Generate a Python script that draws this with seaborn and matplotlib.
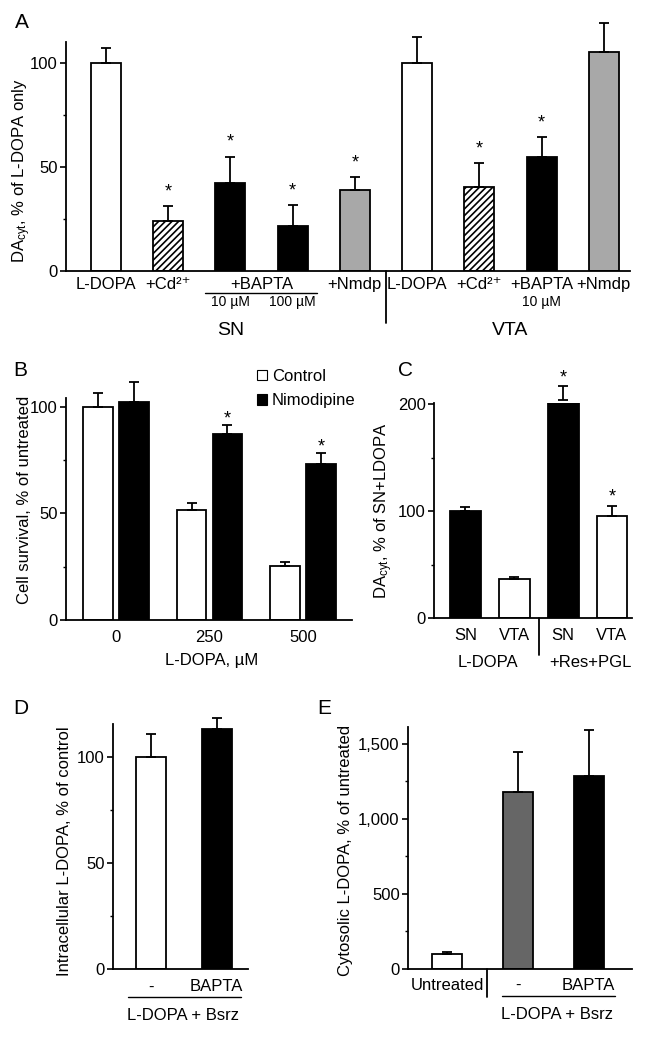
import matplotlib
matplotlib.use("Agg")
import matplotlib.pyplot as plt
import matplotlib.patches as mpatches
from matplotlib.ticker import MultipleLocator, StrMethodFormatter
import seaborn as sns
import numpy as np
import pandas as pd

# ---- values ----
# A: DAcyt, % of L-DOPA only
a_keys = ["SN_LDOPA", "SN_Cd", "SN_BAPTA10", "SN_BAPTA100", "SN_Nmdp",
          "VTA_LDOPA", "VTA_Cd", "VTA_BAPTA10", "VTA_Nmdp"]
a_treat = ["L-DOPA", "Cd", "BAPTA", "BAPTA", "Nmdp", "L-DOPA", "Cd", "BAPTA", "Nmdp"]
a_mean = [100, 24, 42.5, 21.7, 39, 100, 40.5, 55, 105]
a_err = [7, 7, 12.5, 10, 6, 12.5, 11.5, 9.5, 14]
a_sig = [0, 1, 1, 1, 1, 0, 1, 1, 0]
a_ticklabels = ["L-DOPA", "+Cd²⁺", "+BAPTA", "+Nmdp", "L-DOPA", "+Cd²⁺", "+BAPTA", "+Nmdp"]

# B: cell survival
b_dose = ["0", "250", "500"]
b_control = [100, 51.3, 25.4]
b_control_err = [6.2, 3.6, 2.0]
b_nimo = [102.3, 87.3, 73.2]
b_nimo_err = [9.4, 4.2, 5.2]
b_nimo_sig = [0, 1, 1]

# C: DAcyt, % of SN+LDOPA
c_keys = ["SN_LDOPA", "VTA_LDOPA", "SN_ResPGL", "VTA_ResPGL"]
c_region = ["SN", "VTA", "SN", "VTA"]
c_mean = [100, 36.4, 203.7, 95.3]
c_err = [3.7, 1.9, 13, 9.4]
c_sig = [0, 0, 1, 1]

# D: intracellular L-DOPA
d_keys = ["-", "BAPTA"]
d_mean = [100, 113.2]
d_err = [10.8, 5.2]

# E: cytosolic L-DOPA
e_keys = ["Untreated", "-", "BAPTA"]
e_mean = [100, 1180, 1287]
e_err = [12, 267, 306]

# ---- style ----
sns.set_style("ticks")
plt.rcParams["font.family"] = ["Liberation Sans", "DejaVu Sans"]
plt.rcParams["mathtext.fontset"] = "custom"
plt.rcParams["mathtext.rm"] = "Liberation Sans"
plt.rcParams["mathtext.default"] = "regular"
plt.rcParams["hatch.linewidth"] = 1.2
plt.rcParams["axes.linewidth"] = 1.3
for k in ["text.color", "axes.labelcolor", "xtick.color", "ytick.color", "axes.edgecolor"]:
    plt.rcParams[k] = "black"

W, H = 645, 1039
fig = plt.figure(figsize=(W / 100, H / 100), dpi=100)


def px_axes(l, t, r, b):
    return fig.add_axes([l / W, 1 - b / H, (r - l) / W, (b - t) / H])


def style_axis(ax, ylim, major, minor, xpad):
    sns.despine(ax=ax)
    ax.set_ylim(*ylim)
    ax.yaxis.set_major_locator(MultipleLocator(major))
    ax.yaxis.set_minor_locator(MultipleLocator(minor))
    ax.tick_params(axis="y", which="major", direction="out", length=4, width=1.2, labelsize=12, pad=2)
    ax.tick_params(axis="y", which="minor", direction="out", length=2.5, width=1.0)
    ax.tick_params(axis="x", length=0, labelsize=12, pad=xpad)
    ax.set_xlabel("")


def simple_bars(ax, keys, means, groups, palette, width):
    df = pd.DataFrame({"key": keys, "mean": means, "group": groups})
    sns.barplot(data=df, x="key", y="mean", hue="group", palette=palette, order=keys,
                dodge=False, width=width, edgecolor="black", linewidth=1.3,
                errorbar=None, legend=False, ax=ax)


def bars_in_order(ax):
    return sorted([p for p in ax.patches if p.get_width() > 0], key=lambda p: p.get_x())


def add_errors(ax, bars, errs, sig=None, pad=5):
    xs = [p.get_x() + p.get_width() / 2 for p in bars]
    ys = [p.get_height() for p in bars]
    ax.errorbar(xs, ys, yerr=[np.zeros(len(errs)), errs], fmt="none", ecolor="black",
                elinewidth=1.3, capsize=3.5, capthick=1.3, zorder=3, clip_on=False)
    if sig is None:
        return
    for x, y, e, s in zip(xs, ys, errs, sig):
        if s:
            ax.annotate("*", (x, y + e), xytext=(0, pad), textcoords="offset points",
                        ha="center", va="baseline", fontsize=13, annotation_clip=False)


def line(ax, xs, ys, lw=1.0):
    ax.plot(xs, ys, transform=ax.get_xaxis_transform(), color="black", lw=lw, clip_on=False)


def label(ax, x, y, s, size=12):
    ax.text(x, y, s, transform=ax.get_xaxis_transform(), ha="center", va="center", fontsize=size)


# ---- A ----
axA = px_axes(66, 42, 630, 271)
simple_bars(axA, a_keys, a_mean, a_treat,
            {"L-DOPA": "white", "Cd": "white", "BAPTA": "black", "Nmdp": "#a8a8a8"}, 0.48)
barsA = bars_in_order(axA)
for p, t in zip(barsA, a_treat):
    if t == "Cd":
        p.set_hatch("/////")
add_errors(axA, barsA, a_err, a_sig, pad=7)
style_axis(axA, (0, 110), 50, 25, 4)
axA.set_xlim(-0.64, 8.42)
axA.set_xticks([0, 1, 2.5, 4, 5, 6, 7, 8], a_ticklabels)
axA.set_ylabel("DA$_{cyt}$, % of L-DOPA only", fontsize=12)
axA.yaxis.set_label_coords(-0.0585, 0.44)
line(axA, [4.5, 4.5], [0, -0.227], lw=1.3)
line(axA, [1.6, 3.4], [-0.096, -0.096])
label(axA, 2, -0.135, "10 µM", 10)
label(axA, 3, -0.135, "100 µM", 10)
label(axA, 7, -0.135, "10 µM", 10)
label(axA, 2, -0.258, "SN", 14)
label(axA, 6.5, -0.258, "VTA", 14)

# ---- B ----
axB = px_axes(66, 398, 352, 620)
df_b = pd.DataFrame({
    "dose": b_dose * 2,
    "value": b_control + b_nimo,
    "treatment": ["Control"] * len(b_dose) + ["Nimodipine"] * len(b_dose),
})
sns.barplot(data=df_b, x="dose", y="value", hue="treatment", order=b_dose,
            palette={"Control": "white", "Nimodipine": "black"}, width=0.766, gap=0.17,
            edgecolor="black", linewidth=1.3, errorbar=None, legend=False, ax=axB)
add_errors(axB, list(axB.containers[0]), b_control_err)
add_errors(axB, list(axB.containers[1]), b_nimo_err, b_nimo_sig, pad=1)
style_axis(axB, (0, 104), 50, 25, 7)
axB.set_xlim(-0.53, 2.52)
axB.set_ylabel("Cell survival, % of untreated", fontsize=12)
axB.yaxis.set_label_coords(-0.119, 0.54)
axB.set_xlabel("L-DOPA, µM", fontsize=12)
axB.xaxis.set_label_coords(0.51, -0.149)
axB.xaxis.label.set_va("top")
handles = [mpatches.Patch(facecolor="white", edgecolor="black", lw=0.8, label="Control"),
           mpatches.Patch(facecolor="black", edgecolor="black", lw=0.8, label="Nimodipine")]
fig.legend(handles=handles, loc="upper left", bbox_to_anchor=(257 / W, 1 - 369 / H),
           frameon=False, fontsize=12, handlelength=0.6, handleheight=0.6,
           handletextpad=0.3, labelspacing=0.55, borderpad=0, borderaxespad=0)

# ---- C ----
axC = px_axes(434, 403, 632, 618)
simple_bars(axC, c_keys, c_mean, c_region, {"SN": "black", "VTA": "white"}, 0.63)
add_errors(axC, bars_in_order(axC), c_err, c_sig, pad=3)
style_axis(axC, (0, 201), 100, 50, 7.5)
axC.set_xlim(-0.645, 3.41)
axC.set_xticks(range(len(c_keys)), c_region)
axC.set_ylabel("DA$_{cyt}$, % of SN+LDOPA", fontsize=12)
axC.yaxis.set_label_coords(-0.198, 0.50)
line(axC, [1.5, 1.5], [0, -0.172], lw=1.3)
label(axC, 0.45, -0.205, "L-DOPA")
label(axC, 2.55, -0.205, "+Res+PGL")

# ---- D ----
axD = px_axes(113, 724, 248, 969)
simple_bars(axD, d_keys, d_mean, d_keys, {"-": "white", "BAPTA": "black"}, 0.46)
add_errors(axD, bars_in_order(axD), d_err)
style_axis(axD, (0, 115.6), 50, 25, 7.5)
axD.set_xlim(-0.59, 1.48)
axD.set_ylabel("Intracellular L-DOPA, % of control", fontsize=12)
axD.yaxis.set_label_coords(-0.304, 0.48)
line(axD, [-0.36, 1.38], [-0.114, -0.114])
label(axD, 0.49, -0.188, "L-DOPA + Bsrz")

# ---- E ----
axE = px_axes(408, 727, 632, 969)
simple_bars(axE, e_keys, e_mean, e_keys,
            {"Untreated": "white", "-": "#666666", "BAPTA": "black"}, 0.43)
add_errors(axE, bars_in_order(axE), e_err)
style_axis(axE, (0, 1613), 500, 250, 6.5)
axE.yaxis.set_major_formatter(StrMethodFormatter("{x:,.0f}"))
axE.set_xlim(-0.55, 2.61)
axE.set_ylabel("Cytosolic L-DOPA, % of untreated", fontsize=12)
axE.yaxis.set_label_coords(-0.246, 0.49)
line(axE, [0.57, 0.57], [0, -0.116], lw=1.3)
line(axE, [0.78, 2.37], [-0.112, -0.112])
label(axE, 1.55, -0.19, "L-DOPA + Bsrz")

# panel letters
for s, x, y in [("A", 15, 23), ("B", 13, 371), ("C", 398, 371), ("D", 13, 708), ("E", 317, 708)]:
    fig.text(x / W, 1 - y / H, s, ha="left", va="center", fontsize=15)

fig.savefig("out.png", dpi=100)
